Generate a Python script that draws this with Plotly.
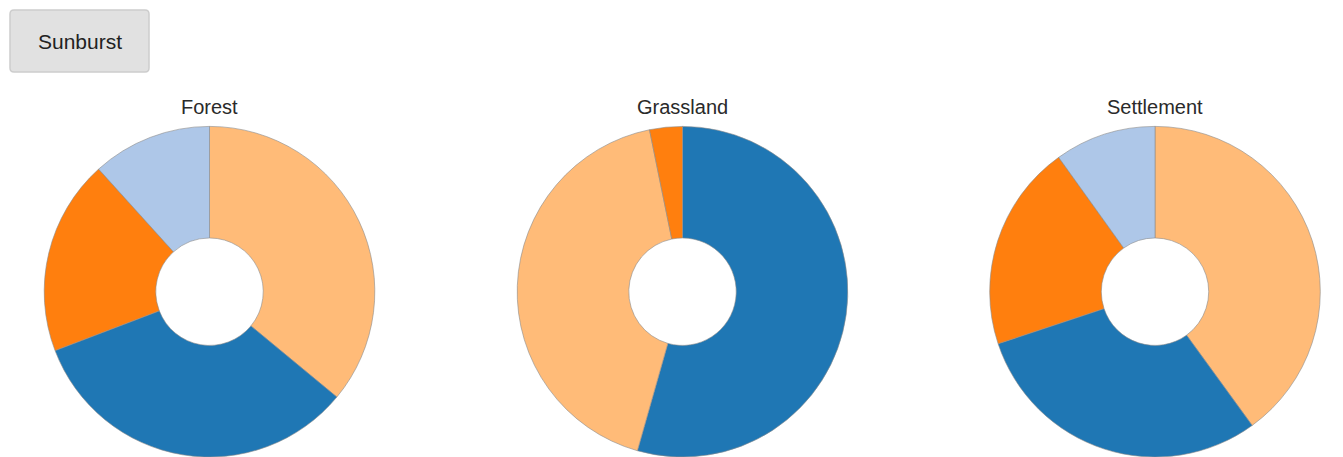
import plotly.graph_objects as go

# Land-cover classes, colours and the share of each class per land-use type
class_colors = {
    "Class A": "#ffbb78",
    "Class B": "#1f77b4",
    "Class C": "#ff7f0e",
    "Class D": "#aec7e8",
}

forest_classes = ["Class A", "Class B", "Class C", "Class D"]
forest_shares = [36.0, 33.2, 19.1, 11.7]

grassland_classes = ["Class B", "Class A", "Class C"]
grassland_shares = [54.4, 42.4, 3.2]

settlement_classes = ["Class A", "Class B", "Class C", "Class D"]
settlement_shares = [40.0, 29.9, 20.2, 9.9]

panels = ["Forest", "Grassland", "Settlement"]

W, H = 1343, 457
R = 165.3          # outer radius in px
CY = 291.7         # centre y (px from top)
centres_x = [209.5, 682.5, 1155.0]

fig = go.Figure()


def add_donut(name, labels, values, cx):
    fig.add_trace(go.Pie(
        labels=labels,
        values=values,
        name=name,
        hole=0.325,
        sort=False,
        direction="clockwise",
        rotation=0,
        textinfo="none",
        showlegend=False,
        marker=dict(colors=[class_colors[c] for c in labels],
                    line=dict(color="rgba(140,140,140,0.6)", width=1)),
        domain=dict(x=[(cx - R) / W, (cx + R) / W],
                    y=[(H - CY - R) / H, (H - CY + R) / H]),
    ))


add_donut("Forest", forest_classes, forest_shares, centres_x[0])
add_donut("Grassland", grassland_classes, grassland_shares, centres_x[1])
add_donut("Settlement", settlement_classes, settlement_shares, centres_x[2])

annotations = []
for name, cx in zip(panels, centres_x):
    annotations.append(dict(
        text=name, x=cx / W, y=(H - 107) / H, xref="paper", yref="paper",
        xanchor="center", yanchor="middle", showarrow=False,
        font=dict(family="Liberation Sans, Arial, sans-serif", size=20, color="#2a2a2a"),
    ))


def px(x):
    return x / W


def py(y):
    return (H - y) / H


# "Sunburst" toggle button drawn as a rounded box with a label
bx0, by0, bx1, by1, rr = 10, 10, 149, 72, 4
path = (
    f"M {px(bx0 + rr)},{py(by0)} L {px(bx1 - rr)},{py(by0)} "
    f"Q {px(bx1)},{py(by0)} {px(bx1)},{py(by0 + rr)} "
    f"L {px(bx1)},{py(by1 - rr)} Q {px(bx1)},{py(by1)} {px(bx1 - rr)},{py(by1)} "
    f"L {px(bx0 + rr)},{py(by1)} Q {px(bx0)},{py(by1)} {px(bx0)},{py(by1 - rr)} "
    f"L {px(bx0)},{py(by0 + rr)} Q {px(bx0)},{py(by0)} {px(bx0 + rr)},{py(by0)} Z"
)
shapes = [dict(type="path", path=path, xref="paper", yref="paper",
               fillcolor="#e1e1e1", line=dict(color="#cdcdcd", width=1.5), layer="above")]
annotations.append(dict(
    text="Sunburst", x=px((bx0 + bx1) / 2), y=py((by0 + by1) / 2 + 1),
    xref="paper", yref="paper", xanchor="center", yanchor="middle", showarrow=False,
    font=dict(family="Liberation Sans, Arial, sans-serif", size=21, color="#222222"),
))

fig.update_layout(
    width=W, height=H,
    margin=dict(l=0, r=0, t=0, b=0),
    paper_bgcolor="white", plot_bgcolor="white",
    annotations=annotations, shapes=shapes,
)

fig.write_html("out.html")
